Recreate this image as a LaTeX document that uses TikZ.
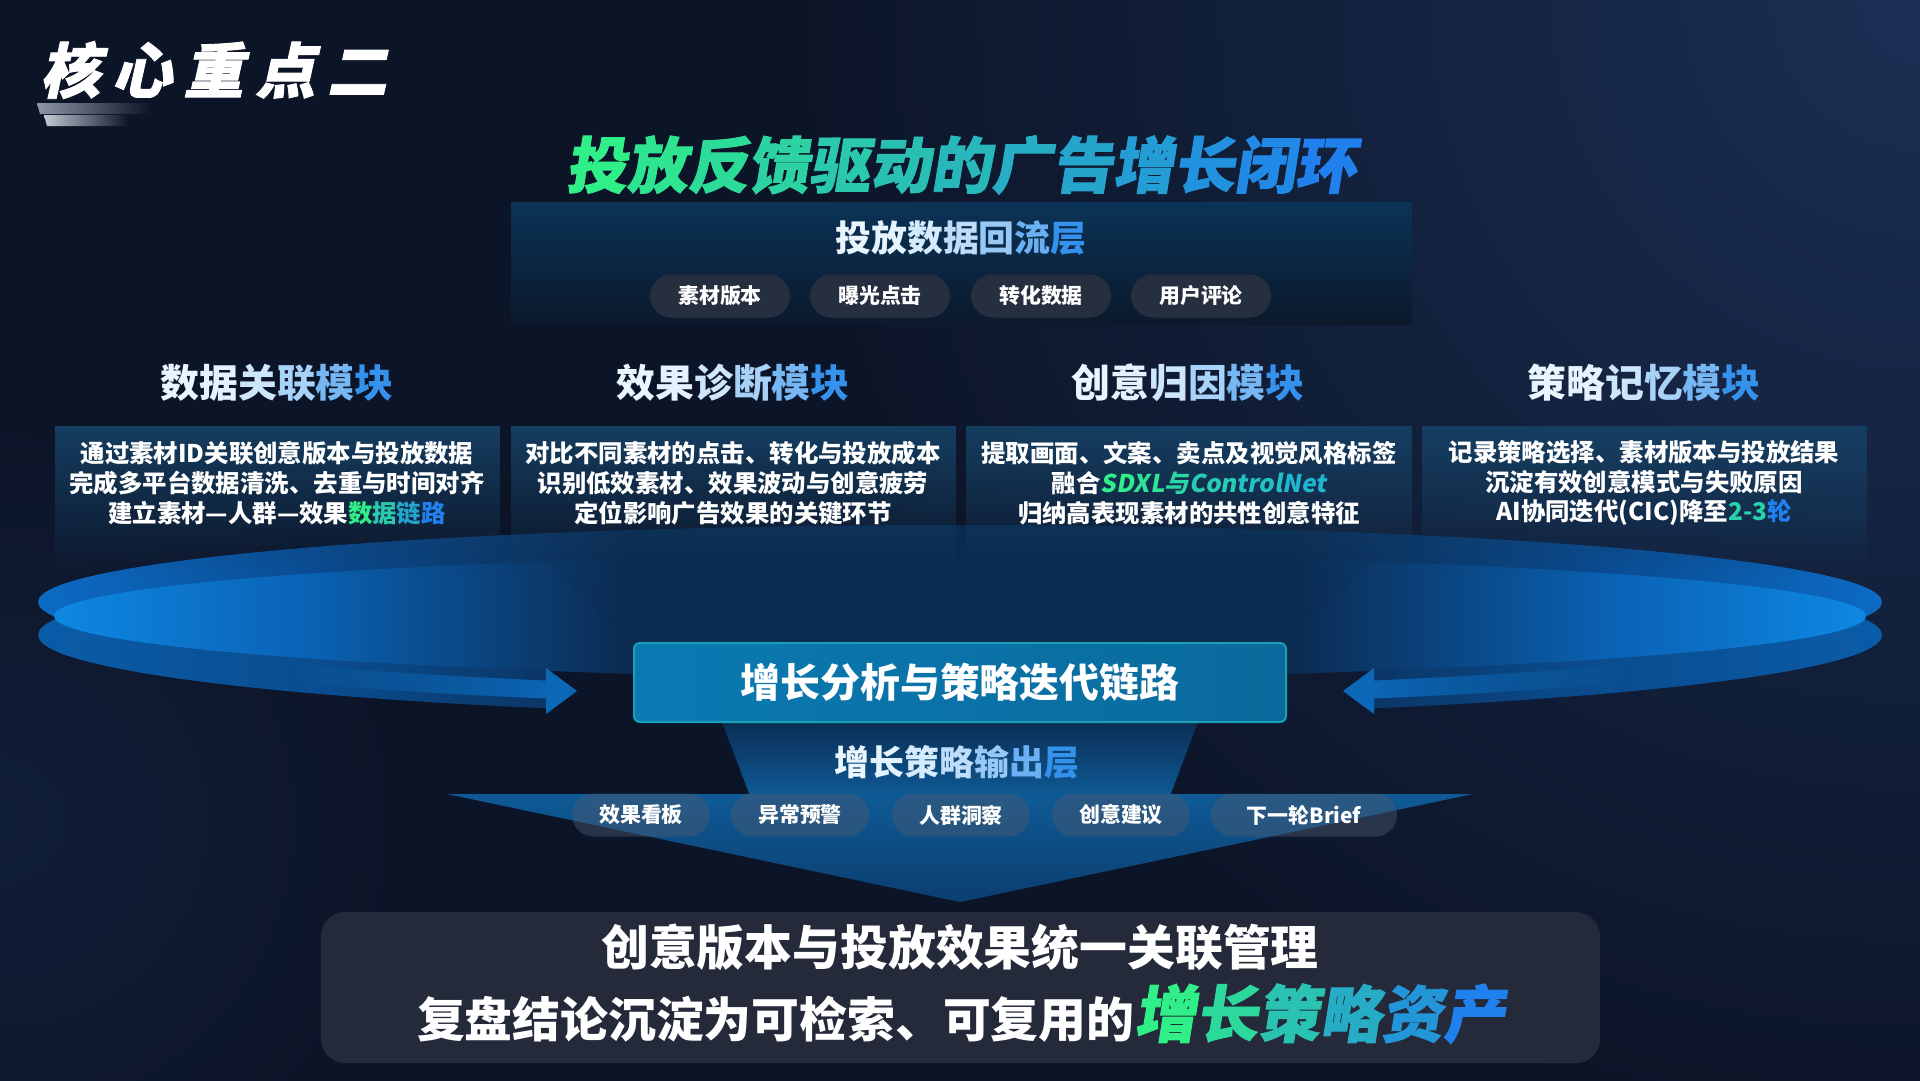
\documentclass[tikz,border=0pt]{standalone}
\usepackage{fontspec}
\setmainfont{Noto Sans CJK SC}
\newfontfamily\cjkslant{Noto Sans CJK SC}[FakeSlant=0.18]
\newfontfamily\cjkheavy{Noto Sans CJK SC}[FakeSlant=0.16,FakeBold=1.5]
\newfontfamily\cjkwide{Noto Sans CJK SC}[FakeSlant=0.22,FakeBold=1.5,LetterSpace=20]
\usetikzlibrary{fadings}

\definecolor{bgdark}{HTML}{0C1427}
\definecolor{bgglow}{HTML}{1A2F54}
\definecolor{bgside}{HTML}{111E38}
\definecolor{panelTop}{HTML}{0B3356}
\definecolor{panelBot}{HTML}{0C192C}
\definecolor{pillgray}{HTML}{262F40}
\definecolor{pilltint}{HTML}{4A5A70}
\definecolor{modfill}{HTML}{164266}
\definecolor{tgreen}{HTML}{30EE88}
\definecolor{tblue}{HTML}{2080EE}
\definecolor{tteal}{HTML}{26D3AA}
\definecolor{hpale}{HTML}{EAF6FF}
\definecolor{hblue}{HTML}{3592EC}
\definecolor{hteal}{HTML}{1FB6D0}
\definecolor{rbA}{HTML}{0C6BC4}
\definecolor{rmA}{HTML}{0A4E96}
\definecolor{rbB}{HTML}{0E88E4}
\definecolor{rmB}{HTML}{0A62B4}
\definecolor{rbC}{HTML}{0A5CA8}
\definecolor{rmC}{HTML}{0A4C8E}
\definecolor{rdark}{HTML}{0B2A50}
\definecolor{arrowblue}{HTML}{0B68B8}
\definecolor{beam}{HTML}{0C2C52}
\definecolor{beamlow}{HTML}{0A2E54}
\definecolor{coreL}{HTML}{0A7AB2}
\definecolor{coreR}{HTML}{0A6A9C}
\definecolor{coreline}{HTML}{1B9FB6}
\definecolor{triTop}{HTML}{0E5A96}
\definecolor{triBot}{HTML}{0C3E70}
\definecolor{sumfill}{HTML}{242A3A}
\definecolor{stripA}{HTML}{8E97AA}
\definecolor{stripB}{HTML}{C3C9D4}

\pgfdeclarehorizontalshading{ringback}{100bp}{color(0bp)=(rbA); color(25bp)=(rbA);
  color(32bp)=(rmA); color(41bp)=(rdark); color(59bp)=(rdark); color(68bp)=(rmA);
  color(75bp)=(rbA); color(100bp)=(rbA)}
\pgfdeclarehorizontalshading{ringfront}{100bp}{color(0bp)=(rbB); color(25bp)=(rbB);
  color(32bp)=(rmB); color(41bp)=(rdark); color(59bp)=(rdark); color(68bp)=(rmB);
  color(75bp)=(rbB); color(100bp)=(rbB)}
\pgfdeclarehorizontalshading{ringlow}{100bp}{color(0bp)=(rbC); color(25bp)=(rbC);
  color(33bp)=(rmC); color(42bp)=(rdark); color(58bp)=(rdark); color(67bp)=(rmC);
  color(75bp)=(rbC); color(100bp)=(rbC)}

% colour runs over a list of characters
\newcommand{\gradtxt}[4]{%
  \foreach \gtc [count=\gti] in {#4}{%
    \pgfmathtruncatemacro{\gtp}{100-(\gti-1)*100/(#3-1)}%
    \textcolor{#1!\gtp!#2}{\gtc}}}
\newcommand{\headtxt}[2]{%
  \foreach \gtc [count=\gti] in {#2}{%
    \pgfmathtruncatemacro{\gtp}{100*(1-((\gti-1)/(#1-1))^2)}%
    \textcolor{hpale!\gtp!hblue}{\gtc}}}

\tikzset{pill/.style={rounded corners=21.5bp, minimum width=140bp, minimum height=43bp,
    inner sep=0, fill=pillgray, text=white, font=\bfseries\fontsize{21}{21}\selectfont},
  outpill/.style={pill, fill=pilltint, fill opacity=0.45, text opacity=1},
  heading/.style={inner sep=0, font=\bfseries\fontsize{39}{39}\selectfont},
  bodytext/.style={inner sep=0, text=white, align=center,
    font=\bfseries\fontsize{24.5}{30}\selectfont},
  core/.style={minimum width=652bp, minimum height=79bp, rounded corners=6bp,
    left color=coreL, right color=coreR, draw=coreline, line width=2bp,
    text=white, font=\bfseries\fontsize{40}{40}\selectfont}}

\begin{document}
\begin{tikzpicture}[x=1bp,y=-1bp]
\useasboundingbox (0,0) rectangle (1920,1080);
\fill[bgdark] (-4,-4) rectangle (1924,1084);
\begin{scope}
  \clip (-4,-4) rectangle (1924,1084);
  \shade[inner color=bgglow, outer color=bgdark] (1920,0) circle [radius=1150];
  \shade[inner color=bgside, outer color=bgdark] (0,820) circle [radius=420];
\end{scope}

% badge
\shade[left color=stripA, right color=bgdark] (37,103) -- (150,103) -- (150,114) -- (40,114) -- cycle;
\shade[left color=stripB, right color=bgdark] (44,115) -- (128,115) -- (128,126) -- (47,126) -- cycle;
\node[anchor=west, inner sep=0, text=white, font=\cjkwide\bfseries\fontsize{60}{60}\selectfont]
  (badge) at (40,70) {核心重点二};
\node[inner sep=0, font=\cjkheavy\bfseries\fontsize{61}{61}\selectfont] (title) at (961,165)
  {\gradtxt{tgreen}{tblue}{13}{投,放,反,馈,驱,动,的,广,告,增,长,闭,环}};

% feedback layer
\node[minimum width=901bp, minimum height=122bp, inner sep=0, top color=panelTop,
  bottom color=panelBot] (feedback) at (961.5,263) {};
\node[heading, font=\bfseries\fontsize{36}{36}\selectfont] (feedhead) at (961,238)
  {\headtxt{7}{投,放,数,据,回,流,层}};
\foreach \x/\lbl [count=\i] in {720/素材版本, 880/曝光点击, 1041/转化数据, 1201/用户评论}
  \node[pill] (in\i) at (\x,296) {\lbl};

% ring
\begin{scope}
  \clip (0,0) rectangle (551,1080) (1369,0) rectangle (1920,1080);
  \shade[shading=ringlow] (960,635) ellipse [x radius=922, y radius=82];
\end{scope}
\shade[shading=ringback] (960,602) ellipse [x radius=922, y radius=77];
\shade[shading=ringfront] (960,616) ellipse [x radius=906, y radius=61];
\draw[line width=18bp, arrowblue, path fading=west] plot[domain=-660:-414, samples=30]
  ({960+\x},{618.5+79.5*sqrt(1-(\x/922)^2)});
\draw[line width=18bp, arrowblue, path fading=east] plot[domain=414:660, samples=30]
  ({960+\x},{618.5+79.5*sqrt(1-(\x/922)^2)});
\fill[arrowblue] (546,668) -- (577,691) -- (546,714) -- cycle;
\fill[arrowblue] (1374,668) -- (1343,691) -- (1374,714) -- cycle;

% modules
\foreach \cx in {277.5,733.5,1189,1644.5}
  \fill[modfill, path fading=south, fill opacity=0.9] (\cx-222.5,426) rectangle (\cx+222.5,574);
\node[heading] (headA) at (277,383) {\headtxt{6}{数,据,关,联,模,块}};
\node[heading] (headB) at (733,383) {\headtxt{6}{效,果,诊,断,模,块}};
\node[heading] (headC) at (1188,383) {\headtxt{6}{创,意,归,因,模,块}};
\node[heading] (headD) at (1644,383) {\headtxt{6}{策,略,记,忆,模,块}};
\node[bodytext] (txtA) at (277,483) {通过素材ID关联创意版本与投放数据\\完成多平台数据清洗、去重与时间对齐\\
  建立素材—人群—效果\gradtxt{tgreen}{tblue}{4}{数,据,链,路}};
\node[bodytext] (txtB) at (733,483) {对比不同素材的点击、转化与投放成本\\识别低效素材、效果波动与创意疲劳\\
  定位影响广告效果的关键环节};
\node[bodytext] (txtC) at (1189,483) {提取画面、文案、卖点及视觉风格标签\\
  融合{\cjkslant\bfseries\gradtxt{tgreen}{hteal}{6}{SD,XL,与,Con,trol,Net}}\\归纳高表现素材的共性创意特征};
\node[bodytext] (txtD) at (1644,483) {记录策略选择、素材版本与投放结果\\沉淀有效创意模式与失败原因\\
  AI协同迭代(CIC)降至\gradtxt{tteal}{tblue}{2}{2-3,轮}};

% beams towards the output
\fill[beam, path fading=north] (540,556) -- (1380,556) -- (1204,722) -- (716,722) -- cycle;
\shade[top color=beamlow, bottom color=triTop] (722,722) -- (1198,722) -- (1170,796) -- (750,796) -- cycle;
\shade[top color=triTop, bottom color=triBot] (447,794) -- (1473,794) -- (960,902) -- cycle;

\node[core] (loop) at (960,682.5) {增长分析与策略迭代链路};
\node[heading, font=\bfseries\fontsize{35}{35}\selectfont] (outhead) at (957,762)
  {\headtxt{7}{增,长,策,略,输,出,层}};
\foreach \x/\w/\lbl [count=\i] in {641/138/效果看板, 800/138/异常预警, 961/138/人群洞察,
    1121/138/创意建议, 1304/186/下一轮Brief}
  \node[outpill, minimum width=\w bp] (out\i) at (\x,815) {\lbl};

% summary
\node[minimum width=1279bp, minimum height=151bp, rounded corners=24bp, fill=sumfill, inner sep=0]
  (summary) at (960.5,987.5) {};
\node[anchor=base, inner sep=0, text=white, font=\bfseries\fontsize{48}{48}\selectfont]
  (sumA) at (960,965) {创意版本与投放效果统一关联管理};
\node[anchor=base, inner sep=0, text=white, font=\bfseries\fontsize{48}{48}\selectfont]
  (sumB) at (961,1037) {复盘结论沉淀为可检索、可复用的{\cjkheavy\bfseries\fontsize{62}{62}\selectfont\gradtxt{tgreen}{tblue}{6}{增,长,策,略,资,产}}};
\end{tikzpicture}
\end{document}
